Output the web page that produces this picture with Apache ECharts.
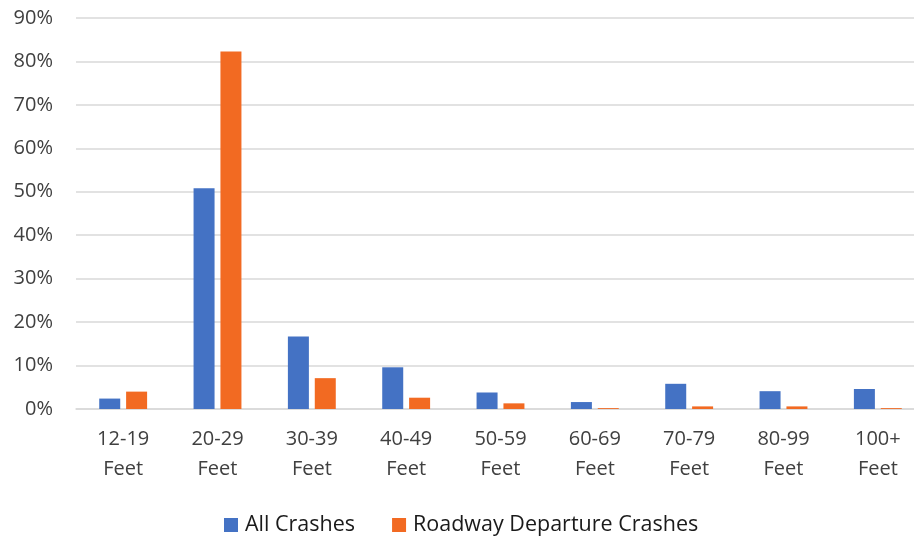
<!DOCTYPE html>
<html>
<head>
<meta charset="utf-8">
<script src="https://cdn.jsdelivr.net/npm/echarts@6/dist/echarts.min.js"></script>
<style>
  html, body { margin: 0; padding: 0; background: #fff; }
  #chart { width: 914px; height: 539px; }
</style>
</head>
<body>
<div id="chart"></div>
<script>
// Share of crashes by vehicle length range
const categories = ['12-19\nFeet', '20-29\nFeet', '30-39\nFeet', '40-49\nFeet', '50-59\nFeet',
                    '60-69\nFeet', '70-79\nFeet', '80-99\nFeet', '100+\nFeet'];
const allCrashes = [2.4, 50.8, 16.7, 9.6, 3.8, 1.6, 5.8, 4.1, 4.6];
const roadwayDeparture = [4.0, 82.3, 7.1, 2.6, 1.3, 0.2, 0.6, 0.6, 0.2];

const axisTextColor = '#404040';
const legendTextColor = '#1a1a1a';
const fontFamily = '"Open Sans", "Liberation Sans", sans-serif';

const chart = echarts.init(document.getElementById('chart'));
chart.setOption({
  animation: false,
  textStyle: { fontFamily: fontFamily },
  grid: {
    left: 76, right: -11, top: 18, bottom: 130,
    containLabel: false,
    outerBoundsMode: 'none'
  },
  legend: {
    data: ['All Crashes', 'Roadway Departure Crashes'],
    left: 224,
    top: 514,
    padding: 0,
    icon: 'rect',
    itemWidth: 14,
    itemHeight: 14,
    itemGap: 37,
    textStyle: { color: legendTextColor, fontSize: 21.5, fontFamily: fontFamily, padding: [0, 0, 0, 2] }
  },
  xAxis: {
    type: 'category',
    data: categories,
    axisLine: { show: true, lineStyle: { color: '#D9D9D9', width: 1.5 } },
    axisTick: { show: false },
    axisLabel: {
      color: axisTextColor,
      fontSize: 20,
      lineHeight: 30,
      margin: 15,
      interval: 0,
      fontFamily: fontFamily
    }
  },
  yAxis: {
    type: 'value',
    min: 0,
    max: 90,
    interval: 10,
    axisLine: { show: false },
    axisTick: { show: false },
    splitLine: { lineStyle: { color: '#D9D9D9', width: 1.5 } },
    axisLabel: {
      color: axisTextColor,
      fontSize: 20,
      margin: 23,
      fontFamily: fontFamily,
      formatter: v => v + '%'
    }
  },
  series: [
    {
      name: 'All Crashes',
      type: 'bar',
      data: allCrashes,
      barWidth: 21,
      barGap: '28%',
      itemStyle: { color: '#4472C4' }
    },
    {
      name: 'Roadway Departure Crashes',
      type: 'bar',
      data: roadwayDeparture,
      barWidth: 21,
      barGap: '28%',
      itemStyle: { color: '#F26A22' }
    }
  ]
});
</script>
</body>
</html>
